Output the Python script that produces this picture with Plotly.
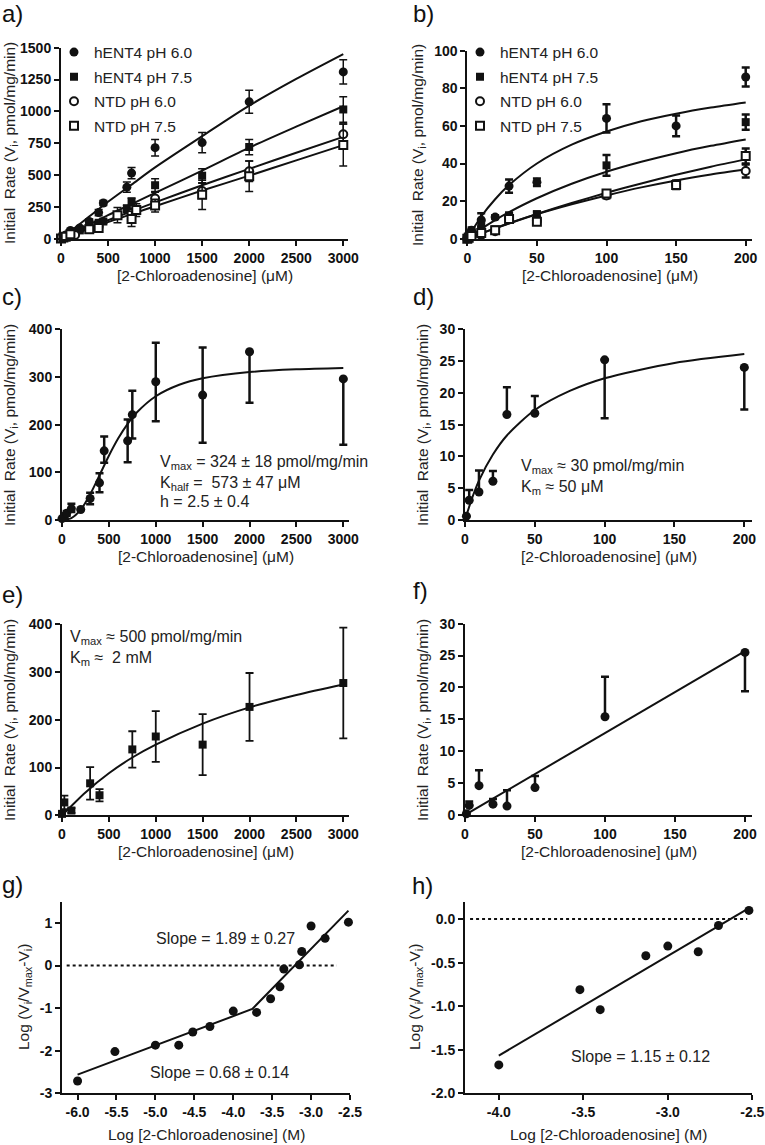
import plotly.graph_objects as go

FONT = "Arial, 'Liberation Sans', Helvetica, sans-serif"
FW, FH = 765, 1145
INK = "#111111"

# ---------------- data ----------------
# Panel a (hENT4 / NTD, 0-3000 uM)
a_x_h60 = [0, 25, 50, 100, 150, 200, 300, 400, 450, 700, 750, 1000, 1500, 2000, 3000]
a_y_h60 = [2, 15, 30, 65, 55, 85, 135, 205, 280, 405, 515, 715, 755, 1075, 1310]
a_e_h60 = [0, 5, 8, 10, 10, 15, 20, 25, 20, 40, 45, 65, 80, 90, 95]
a_x_h75 = [0, 25, 50, 100, 200, 300, 400, 450, 700, 750, 1000, 1500, 2000, 3000]
a_y_h75 = [1, 10, 20, 40, 65, 95, 125, 135, 235, 290, 420, 495, 720, 1015]
a_e_h75 = [0, 4, 6, 8, 10, 15, 15, 15, 30, 30, 50, 55, 60, 100]
a_x_n60 = [0, 25, 50, 100, 150, 300, 400, 750, 1000, 1500, 2000, 3000]
a_y_n60 = [3, 12, 20, 40, 30, 80, 95, 200, 315, 375, 530, 820]
a_e_n60 = [0, 5, 5, 8, 8, 15, 15, 40, 50, 60, 80, 80]
a_x_n75 = [0, 25, 50, 100, 300, 400, 600, 750, 800, 1000, 1500, 2000, 3000]
a_y_n75 = [2, 10, 15, 35, 75, 85, 185, 155, 225, 260, 345, 490, 735]
a_e_n75 = [0, 5, 5, 10, 15, 15, 60, 60, 50, 50, 115, 120, 165]
a_fit_x = [0, 250, 500, 750, 1000, 1500, 2000, 2500, 3000]
a_fit_h60 = [0, 145, 290, 425, 560, 805, 1045, 1255, 1450]
a_fit_h75 = [0, 92, 185, 272, 360, 535, 715, 880, 1040]
a_fit_n60 = [0, 72, 145, 215, 285, 420, 548, 675, 800]
a_fit_n75 = [0, 65, 130, 193, 255, 378, 495, 615, 735]

# Panel b (0-200 uM)
b_x_h60 = [0, 1, 3, 10, 20, 30, 50, 100, 150, 200]
b_y_h60 = [0.5, 2, 4.5, 10, 11.5, 28, 30, 64, 60, 86]
b_e_h60 = [0.3, 1, 1.5, 3.5, 1, 3.5, 2, 7.5, 5.5, 5]
b_x_h75 = [0, 1, 3, 10, 20, 30, 50, 100, 200]
b_y_h75 = [0.3, 1.5, 3, 8, 5, 12, 13, 39, 62]
b_e_h75 = [0.2, 0.5, 1, 2, 1, 2, 1.5, 5.5, 4]
b_x_n60 = [0, 1, 3, 10, 20, 30, 50, 100, 150, 200]
b_y_n60 = [0, 0.8, 1.5, 2, 4, 11, 9.5, 23, 29, 36]
b_e_n60 = [0, 0.3, 0.5, 1, 1, 1.5, 1.5, 1.5, 2, 3.5]
b_x_n75 = [0, 1, 3, 10, 20, 30, 50, 100, 150, 200]
b_y_n75 = [0, 0.5, 1.5, 3, 4.5, 10.5, 9, 24, 28.5, 44]
b_e_n75 = [0, 0.3, 0.5, 1, 1, 1.5, 1.5, 1.5, 2, 4]
b_fit_x = [0, 10, 20, 30, 50, 75, 100, 125, 150, 175, 200]
b_fit_h60 = [0, 11.8, 21, 28.5, 40, 50, 57, 62.5, 66.5, 69.8, 72.5]
b_fit_h75 = [0, 5.2, 9.9, 14.1, 21.5, 29.2, 35.6, 40.9, 45.5, 49.4, 52.8]
b_fit_n75 = [0, 2.8, 5.5, 8.2, 13.2, 19.0, 24.4, 29.4, 34.0, 38.3, 42.2]
b_fit_n60 = [0, 2.8, 5.5, 8.1, 13.0, 18.3, 23.0, 27.3, 31.0, 34.2, 37.0]

# Panel c (hENT4 pH 6.0, sigmoidal)
c_x = [0, 25, 50, 100, 200, 300, 400, 450, 700, 750, 1000, 1500, 2000, 3000]
c_y = [3, 8, 14, 24, 22, 45, 78, 145, 166, 221, 290, 262, 353, 296]
c_ep = [0, 5, 5, 10, 0, 12, 20, 30, 45, 50, 82, 100, 0, 0]
c_em = [0, 5, 5, 7, 0, 12, 20, 25, 45, 50, 83, 100, 107, 138]
c_fit_x = [0, 100, 200, 300, 400, 500, 600, 700, 800, 1000, 1250, 1500, 2000, 2500, 3000]
c_fit_y = [0, 4.1, 21.8, 53.6, 93.8, 134.7, 171.3, 201.7, 225.9, 259.5, 283.6, 297.2, 310.4, 316.0, 318.9]

# Panel d (hENT4 pH 6.0, 0-200 uM)
d_x = [1, 3, 10, 20, 30, 50, 100, 200]
d_y = [0.6, 3.1, 4.4, 6.1, 16.6, 16.8, 25.2, 24.0]
d_ep = [0, 1.6, 3.4, 1.6, 4.3, 2.7, 0, 0]
d_em = [0, 0, 0, 0, 0, 0, 9.2, 6.6]
d_fit_x = [0, 5, 10, 20, 30, 50, 75, 100, 150, 200]
d_fit_y = [0, 3.4, 6.2, 10.3, 13.3, 17.3, 20.3, 22.3, 24.7, 26.1]

# Panel e (hENT4 pH 7.5, 0-3000 uM)
e_x = [0, 25, 100, 300, 400, 750, 1000, 1500, 2000, 3000]
e_y = [3, 27, 10, 67, 42, 138, 165, 148, 227, 277]
e_e = [0, 14, 5, 34, 13, 38, 53, 64, 71, 116]
e_fit_x = [0, 250, 500, 750, 1000, 1500, 2000, 2500, 3000]
e_fit_y = [0, 48, 88, 121, 148, 192, 226, 252, 274]

# Panel f (hENT4 pH 7.5, 0-200 uM)
f_x = [1, 3, 10, 20, 30, 50, 100, 200]
f_y = [0.2, 1.5, 4.6, 1.7, 1.4, 4.3, 15.4, 25.5]
f_ep = [0, 0.6, 2.4, 0.8, 2.5, 1.8, 6.3, 0]
f_em = [0, 0, 0, 0, 0, 0, 0, 6.1]
f_fit_x = [0, 200]
f_fit_y = [0, 25.7]

# Panel g (Hill plot, pH 6.0)
g_x = [-6.0, -5.52, -5.0, -4.70, -4.52, -4.30, -4.0, -3.70, -3.52, -3.40, -3.35, -3.15, -3.12, -3.0, -2.82, -2.52]
g_y = [-2.71, -2.02, -1.87, -1.87, -1.56, -1.43, -1.07, -1.10, -0.78, -0.50, -0.08, 0.02, 0.33, 0.93, 0.64, 1.02]
g_fit_x = [-6.0, -3.755, -2.52]
g_fit_y = [-2.56, -1.02, 1.29]
g_ref_x = [-6.14, -2.67]
g_ref_y = [0, 0]

# Panel h (Hill plot, pH 7.5)
h_x = [-4.0, -3.52, -3.40, -3.13, -3.0, -2.82, -2.70, -2.52]
h_y = [-1.674, -0.81, -1.04, -0.42, -0.31, -0.375, -0.073, 0.10]
h_fit_x = [-4.0, -2.52]
h_fit_y = [-1.567, 0.126]
h_ref_x = [-4.17, -2.53]
h_ref_y = [0, 0]

# tick labels
ticks_3000 = [0, 500, 1000, 1500, 2000, 2500, 3000]
ticks_200 = [0, 50, 100, 150, 200]
ticks_a_y = [0, 250, 500, 750, 1000, 1250, 1500]
ticks_b_y = [0, 20, 40, 60, 80, 100]
ticks_400 = [0, 100, 200, 300, 400]
ticks_30 = [0, 5, 10, 15, 20, 25, 30]
g_xticks = [-6.0, -5.5, -5.0, -4.5, -4.0, -3.5, -3.0, -2.5]
g_xtext = ["-6.0", "-5.5", "-5.0", "-4.5", "-4.0", "-3.5", "-3.0", "-2.5"]
g_yticks = [1, 0, -1, -2, -3]
g_ytext = ["1", "0", "-1", "-2", "-3"]
h_xticks = [-4.0, -3.5, -3.0, -2.5]
h_xtext = ["-4.0", "-3.5", "-3.0", "-2.5"]
h_yticks = [0.0, -0.5, -1.0, -1.5, -2.0]
h_ytext = ["0.0", "-0.5", "-1.0", "-1.5", "-2.0"]

series_names = ["hENT4 pH 6.0", "hENT4 pH 7.5", "NTD pH 6.0", "NTD pH 7.5"]

# ---------------- figure ----------------
fig = go.Figure()

MK = {
    "fc": dict(symbol="circle", size=9, color=INK, line=dict(width=0)),
    "fs": dict(symbol="square", size=8, color=INK, line=dict(width=0)),
    "oc": dict(symbol="circle", size=8, color="white", line=dict(width=2, color=INK)),
    "os": dict(symbol="square", size=8, color="white", line=dict(width=2, color=INK)),
}


def ax_names(i):
    return ("x" if i == 1 else f"x{i}"), ("y" if i == 1 else f"y{i}")


def add_curve(i, xs, ys, spline=True):
    xa, ya = ax_names(i)
    fig.add_trace(go.Scatter(x=xs, y=ys, mode="lines", xaxis=xa, yaxis=ya,
                             line=dict(color=INK, width=2,
                                       shape="spline" if spline else "linear", smoothing=0.8),
                             showlegend=False, hoverinfo="skip"))


def add_points(i, xs, ys, mk, ep=None, em=None, thick=1.5, name=None, legend=None):
    xa, ya = ax_names(i)
    err = None
    if ep is not None:
        err = dict(type="data", array=ep, arrayminus=em if em is not None else ep,
                   symmetric=em is None, color=INK, thickness=thick, width=4)
    fig.add_trace(go.Scatter(x=xs, y=ys, mode="markers", xaxis=xa, yaxis=ya,
                             marker=MK[mk], error_y=err, cliponaxis=False,
                             name=name, showlegend=name is not None,
                             legendgroup=(f"{legend}-{name}" if name else None),
                             legend=legend if legend else "legend"))


# panel a
add_curve(1, a_fit_x, a_fit_n75)
add_curve(1, a_fit_x, a_fit_n60)
add_curve(1, a_fit_x, a_fit_h75)
add_curve(1, a_fit_x, a_fit_h60)
add_points(1, a_x_h60, a_y_h60, "fc", a_e_h60, name=series_names[0], legend="legend")
add_points(1, a_x_h75, a_y_h75, "fs", a_e_h75, name=series_names[1], legend="legend")
add_points(1, a_x_n60, a_y_n60, "oc", a_e_n60, name=series_names[2], legend="legend")
add_points(1, a_x_n75, a_y_n75, "os", a_e_n75, name=series_names[3], legend="legend")

# panel b
add_curve(2, b_fit_x, b_fit_n60)
add_curve(2, b_fit_x, b_fit_n75)
add_curve(2, b_fit_x, b_fit_h75)
add_curve(2, b_fit_x, b_fit_h60)
add_points(2, b_x_h60, b_y_h60, "fc", b_e_h60, thick=2.5, name=series_names[0], legend="legend2")
add_points(2, b_x_h75, b_y_h75, "fs", b_e_h75, thick=2.5, name=series_names[1], legend="legend2")
add_points(2, b_x_n60, b_y_n60, "oc", b_e_n60, thick=2.5, name=series_names[2], legend="legend2")
add_points(2, b_x_n75, b_y_n75, "os", b_e_n75, thick=2.5, name=series_names[3], legend="legend2")

# panel c
add_curve(3, c_fit_x, c_fit_y)
add_points(3, c_x, c_y, "fc", c_ep, c_em, thick=2.5)
# panel d
add_curve(4, d_fit_x, d_fit_y)
add_points(4, d_x, d_y, "fc", d_ep, d_em, thick=2.5)
# panel e
add_curve(5, e_fit_x, e_fit_y)
add_points(5, e_x, e_y, "fs", e_e, thick=1.8)
# panel f
add_curve(6, f_fit_x, f_fit_y, spline=False)
add_points(6, f_x, f_y, "fc", f_ep, f_em, thick=2.5)
# panel g
fig.add_trace(go.Scatter(x=g_ref_x, y=g_ref_y, mode="lines", xaxis="x7", yaxis="y7",
                         line=dict(color=INK, width=2, dash="dot"), showlegend=False))
add_curve(7, g_fit_x, g_fit_y, spline=False)
add_points(7, g_x, g_y, "fc")
# panel h
fig.add_trace(go.Scatter(x=h_ref_x, y=h_ref_y, mode="lines", xaxis="x8", yaxis="y8",
                         line=dict(color=INK, width=2, dash="dot"), showlegend=False))
add_curve(8, h_fit_x, h_fit_y, spline=False)
add_points(8, h_x, h_y, "fc")


# ---------------- axes ----------------
def px(x):
    return x / FW


def py(y):
    return 1 - y / FH


def dx(l, r):
    return [px(l), px(r)]


def dy(t, b):
    return [py(b), py(t)]


def bold(v):
    return [f"<b>{t}</b>" for t in v]


panels = [
    # (x px l, r), (y px top, bottom), xrange, yrange, xticks, xtext, yticks, ytext
    ((61, 347.7), (47.7, 238.7), [0, 3047], [0, 1500], ticks_3000, ticks_3000, ticks_a_y, ticks_a_y),
    ((467.3, 751.7), (50.7, 238.7), [0, 204.3], [0, 100], ticks_200, ticks_200, ticks_b_y, ticks_b_y),
    ((62, 349.3), (329.3, 520), [0, 3064], [0, 400], ticks_3000, ticks_3000, ticks_400, ticks_400),
    ((465, 751.7), (329.3, 520), [0, 205.3], [0, 30], ticks_200, ticks_200, ticks_30, ticks_30),
    ((62, 349.3), (624.3, 815.3), [0, 3064], [0, 400], ticks_3000, ticks_3000, ticks_400, ticks_400),
    ((465, 751.7), (623.7, 815), [0, 204.8], [0, 30], ticks_200, ticks_200, ticks_30, ticks_30),
    ((62, 350), (901.7, 1093.3), [-6.2, -2.5], [-3, 1.5], g_xticks, g_xtext, g_yticks, g_ytext),
    ((465, 752.3), (901.7, 1093.3), [-4.2, -2.5], [-2, 0.2], h_xticks, h_xtext, h_yticks, h_ytext),
]

axis_style = dict(showline=True, linecolor=INK, linewidth=2, ticks="outside", ticklen=5,
                  tickwidth=2, tickcolor=INK, showgrid=False, zeroline=False,
                  automargin=False,
                  tickfont=dict(family=FONT, size=14, color=INK),
                  tickmode="array", fixedrange=True)

layout_axes = {}
for i, (xp, yp, xr, yr, xt, xtt, yt, ytt) in enumerate(panels, start=1):
    xk = "xaxis" if i == 1 else f"xaxis{i}"
    yk = "yaxis" if i == 1 else f"yaxis{i}"
    xa, ya = ax_names(i)
    layout_axes[xk] = dict(axis_style, domain=dx(*xp), range=xr, anchor=ya,
                           tickvals=xt, ticktext=bold(xtt))
    layout_axes[yk] = dict(axis_style, domain=dy(*yp), range=yr, anchor=xa,
                           tickvals=yt, ticktext=bold(ytt))

fig.update_layout(**layout_axes)

# ---------------- annotations ----------------
ann = []


def text(x, y, s, size=15.5, xanchor="center", yanchor="middle", angle=0, color="#222222"):
    ann.append(dict(x=px(x), y=py(y), xref="paper", yref="paper", text=s,
                    showarrow=False, xanchor=xanchor, yanchor=yanchor, textangle=angle,
                    font=dict(family=FONT, size=size, color=color)))


ytitle = "Initial\u00a0 Rate (V<sub>i</sub>, pmol/mg/min)"
xtitle = "[2-Chloroadenosine] (\u03bcM)"
logx = "Log [2-Chloroadenosine] (M)"
logy = "Log (V<sub>i</sub>/V<sub>max</sub>-V<sub>i</sub>)"

# panel letters
for lab, x, y in [("a)", 13, 14), ("b)", 423, 14), ("c)", 12, 297), ("d)", 423, 297),
                  ("e)", 12, 594), ("f)", 420, 590), ("g)", 13, 884), ("h)", 422, 885)]:
    text(x, y, lab, size=24, color=INK)

# y titles
for x, y in [(10, 143), (419, 145), (10, 425), (423, 425), (10, 720), (423, 720)]:
    text(x, y, ytitle, angle=-90)
text(24, 997, logy, angle=-90)
text(415, 997, logy, angle=-90)

# x titles
for x, y in [(204.5, 275), (609.5, 275), (205.5, 556), (608.5, 556), (205.5, 851.5), (608.5, 851.5)]:
    text(x, y, xtitle)
text(206, 1134, logx)
text(608.5, 1134, logx)

# fit parameter texts
text(157.7, 462.7, "V<sub>max</sub> = 324 \u00b1 18 pmol/mg/min", size=16, xanchor="left")
text(157.7, 483.3, "K<sub>half</sub> =  573 \u00b1 47 \u03bcM", size=16, xanchor="left")
text(157.7, 501.7, "h = 2.5 \u00b1 0.4", size=16, xanchor="left")
text(519.3, 466.7, "V<sub>max</sub> \u2248 30 pmol/mg/min", size=16, xanchor="left")
text(519.3, 487.7, "K<sub>m</sub> \u2248 50 \u03bcM", size=16, xanchor="left")
text(68.3, 637.3, "V<sub>max</sub> \u2248 500 pmol/mg/min", size=16, xanchor="left")
text(68.3, 658.7, "K<sub>m</sub> \u2248  2 mM", size=16, xanchor="left")
text(225, 938.7, "Slope = 1.89 \u00b1 0.27", size=16)
text(220, 1072.3, "Slope = 0.68 \u00b1 0.14", size=16)
text(640.8, 1056.7, "Slope = 1.15 \u00b1 0.12", size=16)

legend_style = dict(xanchor="left", yanchor="top", bgcolor="rgba(0,0,0,0)",
                    font=dict(family=FONT, size=15.5, color="#222222"),
                    traceorder="grouped", tracegroupgap=1.4,
                    borderwidth=0, itemclick=False, itemdoubleclick=False)

fig.update_layout(
    template="none",
    width=FW, height=FH,
    margin=dict(l=0, r=0, t=0, b=0, autoexpand=False),
    paper_bgcolor="white", plot_bgcolor="white",
    font=dict(family=FONT, color="#222222"),
    annotations=ann,
    legend=dict(legend_style, x=px(54), y=py(35.5)),
    legend2=dict(legend_style, x=px(460), y=py(35.5)),
    hovermode=False,
)

# the page's default body margin would push the figure 8 px off the page corner
fig.write_html("out.html",
               config={"displayModeBar": False, "staticPlot": False},
               post_script="document.body.style.margin='0';document.body.style.overflow='hidden';")
